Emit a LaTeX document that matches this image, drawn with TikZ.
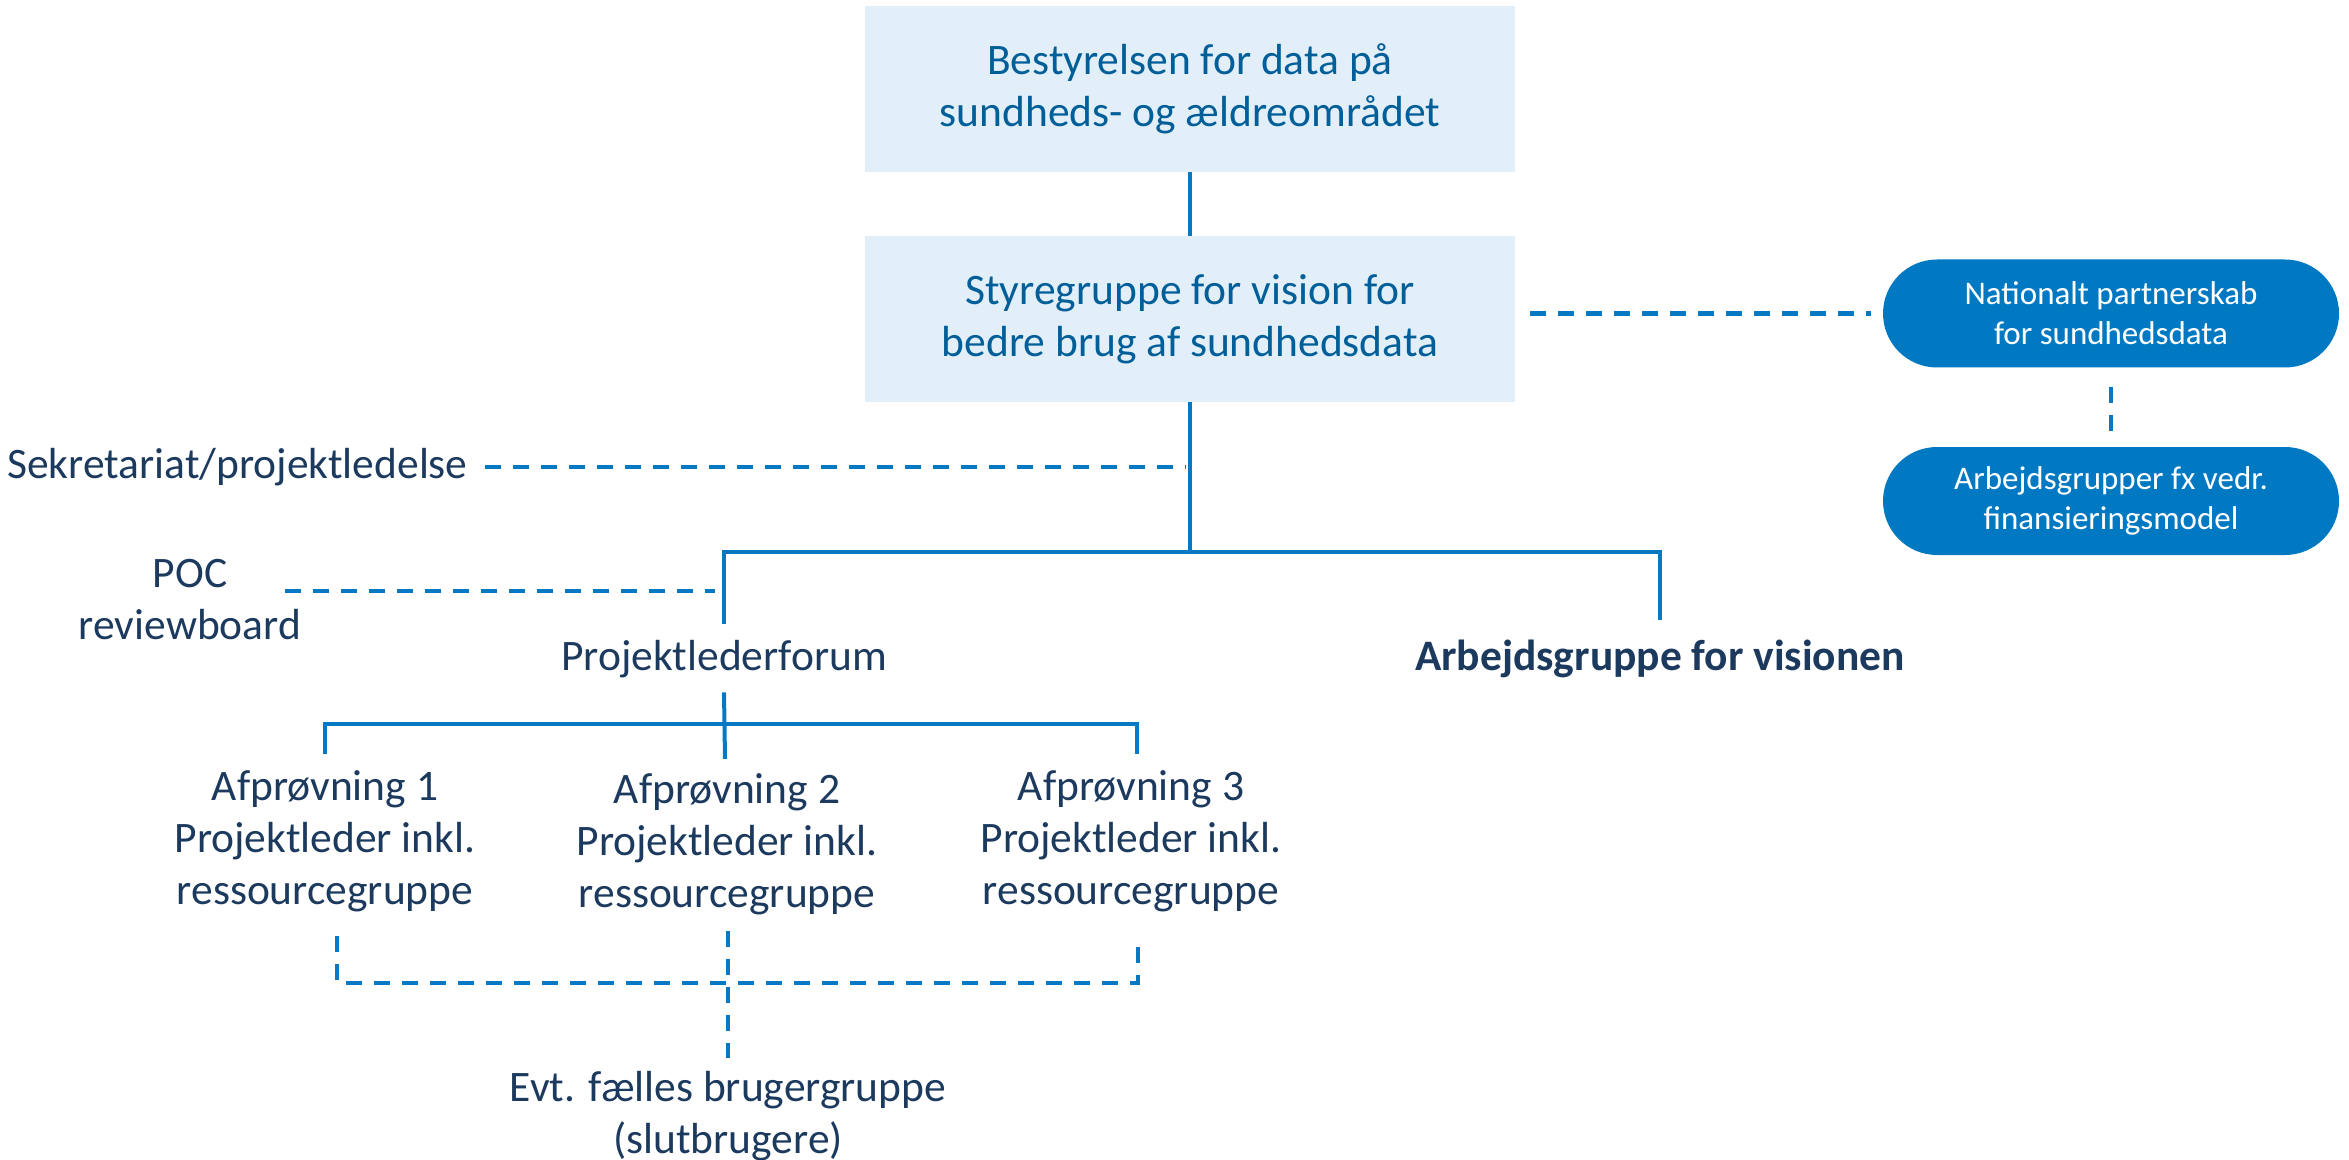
\documentclass[tikz,border=0pt]{standalone}
\usepackage{fontspec}
\setmainfont{Carlito}
\definecolor{boxfill}{HTML}{E2EFF9}
\definecolor{boxtext}{HTML}{005E99}
\definecolor{navy}{HTML}{1C3A5E}
\definecolor{linec}{HTML}{0679C2}
\definecolor{pillc}{HTML}{0079C2}
\begin{document}
\begin{tikzpicture}[x=0.5pt,y=-0.5pt,
  bigfont/.style={font=\fontsize{21.75pt}{26pt}\selectfont},
  mainbox/.style={fill=boxfill, minimum width=325pt, minimum height=83pt, align=center, text=boxtext, bigfont, inner sep=0pt},
  pillbox/.style={fill=pillc, rounded corners=27pt, minimum width=228pt, minimum height=54pt, align=center, text=white, font=\fontsize{16.5pt}{20pt}\selectfont, inner sep=0pt},
  lbl/.style={text=navy, bigfont, align=center, inner sep=0pt},
  onelbl/.style={lbl, text height=16pt, text depth=5pt},
  conn/.style={draw=linec, line width=2pt},
  dconn/.style={draw=linec, line width=2.4pt, dash pattern=on 8pt off 6pt}]
\useasboundingbox (0,0) rectangle (2349,1160);

% boxes
\node[mainbox] (b1) at (1190,89) {Bestyrelsen for data på\\sundheds- og ældreområdet};
\node[mainbox] (b2) at (1190,319) {Styregruppe for vision for\\bedre brug af sundhedsdata};
\node[pillbox] (p1) at (2111,313.5) {Nationalt partnerskab\\for sundhedsdata};
\node[pillbox] (p2) at (2111,501) {Arbejdsgrupper fx vedr.\\finansieringsmodel};

% labels
\node[onelbl, anchor=base east] (sek) at (468,478) {Sekretariat/projektledelse};
\node[lbl] (poc) at (190,600) {POC\\reviewboard};
\node[onelbl, anchor=base] (plf) at (724,670) {Projektlederforum};
\node[onelbl, anchor=base, font=\fontsize{21.75pt}{26pt}\selectfont\bfseries] (arb) at (1660,670) {Arbejdsgruppe for visionen};
\node[lbl] (a1) at (325,841) {Afprøvning 1\\Projektleder inkl.\\ressourcegruppe};
\node[lbl] (a2) at (727,844) {Afprøvning 2\\Projektleder inkl.\\ressourcegruppe};
\node[lbl] (a3) at (1131,841) {Afprøvning 3\\Projektleder inkl.\\ressourcegruppe};
\node[lbl] (evt) at (728,1116) {Evt. fælles brugergruppe\\(slutbrugere)};

% coordinates
\coordinate (j1) at (1190,552);
\coordinate (j2) at (725,724);
\coordinate (jd) at (728,983);
\coordinate (sekEnd) at (1186,467);
\coordinate (pocEnd) at (715,591);

% solid connectors
\draw[conn] (b1.south) -- (b2.north);
\draw[conn] (b2.south) -- (j1);
\draw[conn] ([yshift=7pt]plf.north) |- (j1) -| ([yshift=9pt]arb.north);
\draw[conn] ([yshift=-6pt]plf.south) -- ([xshift=-1pt,yshift=7pt]a2.north);
\draw[conn] ([yshift=8pt]a1.north) |- (j2) -| ([xshift=3pt,yshift=8pt]a3.north);

% dashed connectors
\draw[dconn] ([xshift=8.5pt]sek.east) -- (sekEnd);
\draw[dconn] ([xshift=-8.5pt,yshift=4.5pt]poc.east) -- (pocEnd);
\draw[dconn] ([xshift=7.5pt]b2.east |- p1.west) -- ([xshift=-6pt]p1.west);
\draw[dconn] ([yshift=-9.5pt]p1.south) -- ([yshift=8pt]p2.north);
\draw[dconn] ([xshift=6pt,yshift=-12pt]a1.south) |- (jd) -| ([xshift=3.5pt,yshift=-12pt]a3.south);
\draw[dconn] ([xshift=0.5pt,yshift=-8pt]a2.south) -- ([yshift=6.5pt]evt.north);
\end{tikzpicture}
\end{document}
